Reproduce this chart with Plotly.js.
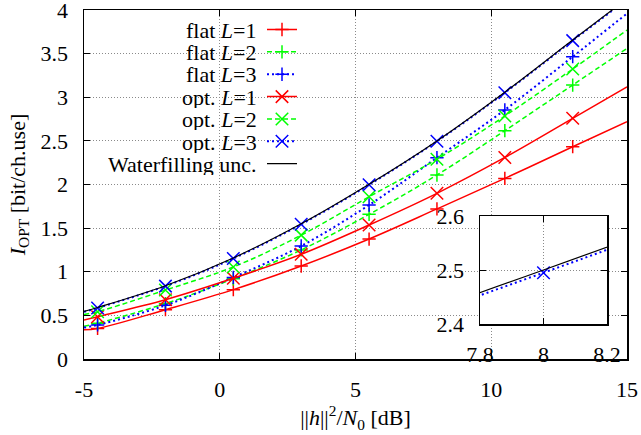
<!DOCTYPE html>
<html><head><meta charset="utf-8">
<script src="https://cdn.plot.ly/plotly-3.0.1.min.js"></script>
<style>html,body{margin:0;padding:0;background:#fff}#chart{width:641px;height:435px}</style>
</head><body><div id="chart"></div>
<script>
// ---- data ----
const snrPoints = [-4.5, -2, 0.5, 3, 5.5, 8, 10.5, 13];
const snrCurveStart = -5;
const snrCurveEnd = 15;

const flatL1 = [0.35, 0.565, 0.795, 1.066, 1.375, 1.72, 2.07, 2.433];
const flatL2 = [0.41, 0.635, 0.92, 1.25, 1.658, 2.109, 2.617, 3.14];
const flatL3 = [0.39, 0.615, 0.935, 1.295, 1.765, 2.307, 2.855, 3.465];
const optL1 = [0.485, 0.68, 0.925, 1.20, 1.536, 1.899, 2.31, 2.759];
const optL2 = [0.542, 0.79, 1.055, 1.42, 1.86, 2.29, 2.785, 3.324];
const optL3 = [0.585, 0.835, 1.152, 1.544, 1.997, 2.495, 3.052, 3.649];
const waterfilling = [0.59, 0.84, 1.158, 1.55, 2.003, 2.50, 3.058, 3.655];

// curve values at the left (-5 dB) and right (15 dB) edges
const curveStartValues = [0.335, 0.375, 0.36, 0.447, 0.51, 0.54, 0.545];
const curveEndValues = [2.72, 3.56, 3.96, 3.12, 3.77, 4.12, 4.13];

const seriesNames = ['flat <i>L</i>=1', 'flat <i>L</i>=2', 'flat <i>L</i>=3',
  'opt. <i>L</i>=1', 'opt. <i>L</i>=2', 'opt. <i>L</i>=3', 'Waterfilling unc.'];

const xTickVals = [-5, 0, 5, 10, 15];
const xTickText = ['-5', '0', '5', '10', '15'];
const yTickVals = [0, 0.5, 1, 1.5, 2, 2.5, 3, 3.5, 4];
const yTickText = ['0', '0.5', '1', '1.5', '2', '2.5', '3', '3.5', '4'];
const insetXTicks = [7.8, 8, 8.2];
const insetXText = ['7.8', '8', '8.2'];
const insetYTicks = [2.4, 2.5, 2.6];
const insetYText = ['2.4', '2.5', '2.6'];

// ---- styles ----
const seriesValues = [flatL1, flatL2, flatL3, optL1, optL2, optL3, waterfilling];
const colors = ['#ff0000', '#00ff00', '#0000ff', '#ff0000', '#00ff00', '#0000ff', '#000000'];
const dashes = ['solid', '5px,3px', '2px,3px', 'solid', '5px,3px', '2px,3px', 'solid'];
const widths = [1.5, 1.5, 2, 1.5, 1.5, 2, 1.2];
const symbols = ['cross-thin', 'cross-thin', 'cross-thin', 'x-thin', 'x-thin', 'x-thin', null];
const symSizes = [9.5, 9.5, 9.5, 12.5, 12.5, 12.5, 0];
const FONT = 'Liberation Serif';
const FS = 22;
function mkFont(size) { return {family: FONT, size: size, color: '#000'}; }

const snrCurve = [snrCurveStart].concat(snrPoints, [snrCurveEnd]);
const traces = [];
const insetTraces = [];
seriesValues.forEach(function (vals, i) {
  const curveY = [curveStartValues[i]].concat(vals, [curveEndValues[i]]);
  const line = {color: colors[i], dash: dashes[i], width: widths[i], shape: 'spline', smoothing: 1};
  const hasMarker = !!symbols[i];
  const marker = {symbol: symbols[i] || 'circle', size: symSizes[i], color: colors[i],
    line: {color: colors[i], width: 1.5}};
  traces.push({x: snrCurve, y: curveY, mode: 'lines', line: line, showlegend: false, hoverinfo: 'skip'});
  if (hasMarker) {
    traces.push({x: snrPoints, y: vals, mode: 'markers', marker: marker, showlegend: false, hoverinfo: 'skip'});
  }
  // legend proxy (symbol only; the label is drawn to its left as in the reference)
  const proxy = {x: [null], y: [null], mode: hasMarker ? 'lines+markers' : 'lines',
    line: {color: colors[i], dash: dashes[i], width: widths[i]},
    name: ' ', showlegend: true};
  if (hasMarker) proxy.marker = marker;
  traces.push(proxy);
  // inset: waterfilling and opt. L=3
  if (i === 5 || i === 6) {
    insetTraces.push({x: snrCurve, y: curveY, mode: 'lines', line: line, xaxis: 'x2', yaxis: 'y2',
      showlegend: false, hoverinfo: 'skip'});
    if (hasMarker) insetTraces.push({x: snrPoints, y: vals, mode: 'markers', marker: marker,
      xaxis: 'x2', yaxis: 'y2', showlegend: false, hoverinfo: 'skip'});
  }
});

// ---- layout ----
const ML = 84, MR = 14, MT = 10, MB = 76, W = 641, H = 435;
const PW = W - ML - MR, PH = H - MT - MB;
const rowTop = 29.5, rowStep = 22.4, textRight = 258;
const annotations = seriesNames.map(function (n, k) {
  return {text: n, xref: 'paper', yref: 'paper', x: (textRight - ML) / PW,
    y: (H - MB - (rowTop + rowStep * k)) / PH, xanchor: 'right', yanchor: 'middle',
    height: 22, borderpad: 0, valign: 'middle',
    showarrow: false, font: mkFont(FS)};
});

function axisBase() {
  return {
    showline: true, linecolor: '#000', linewidth: 1.5, mirror: 'ticks',
    ticks: 'inside', ticklen: 6, tickwidth: 1, tickcolor: '#000',
    showgrid: true, gridcolor: '#8a8a8a', gridwidth: 1, griddash: '1px,2px',
    zeroline: false, tickfont: mkFont(FS), tickmode: 'array',
    ticklabelstandoff: 10, ticklabeloverflow: 'allow', fixedrange: true
  };
}

const layout = {
  width: W, height: H,
  margin: {l: ML, r: MR, t: MT, b: MB, pad: 0},
  paper_bgcolor: '#fff', plot_bgcolor: '#fff',
  font: mkFont(FS),
  showlegend: true,
  legend: {x: (262 - ML) / PW, y: (H - MB - 13.3) / PH, xanchor: 'left', yanchor: 'top',
    bgcolor: 'rgba(0,0,0,0)', borderwidth: 0, font: mkFont(14.9), itemwidth: 30,
    tracegroupgap: 0},
  xaxis: Object.assign(axisBase(), {
    range: [-5, 15], tickvals: xTickVals, ticktext: xTickText,
    title: {text: '||<i>h</i>||<sup>2</sup>/<i>N</i><sub>0</sub> [dB]', font: mkFont(FS), standoff: 3}
  }),
  yaxis: Object.assign(axisBase(), {
    range: [0, 4], tickvals: yTickVals, ticktext: yTickText,
    title: {text: '<i>I</i><sub>OPT</sub> [bit/ch.use]', font: mkFont(FS), standoff: 9}
  }),
  xaxis2: Object.assign(axisBase(), {
    domain: [(480 - ML) / PW, (607 - ML) / PW], anchor: 'y2', range: [7.8, 8.2],
    tickvals: insetXTicks, ticktext: insetXText
  }),
  yaxis2: Object.assign(axisBase(), {
    domain: [(H - MB - 324) / PH, (H - MB - 216) / PH], anchor: 'x2', range: [2.4, 2.6],
    tickvals: insetYTicks, ticktext: insetYText
  }),
  shapes: [{type: 'rect', xref: 'paper', yref: 'paper', x0: 0.004, x1: (305 - ML) / PW,
    y0: (H - MB - 180) / PH, y1: 0.996, fillcolor: '#fff', line: {width: 0}, layer: 'between'}],
  annotations: annotations
};

Plotly.newPlot('chart', traces.concat(insetTraces), layout, {staticPlot: true, displayModeBar: false});
</script>
</body></html>
